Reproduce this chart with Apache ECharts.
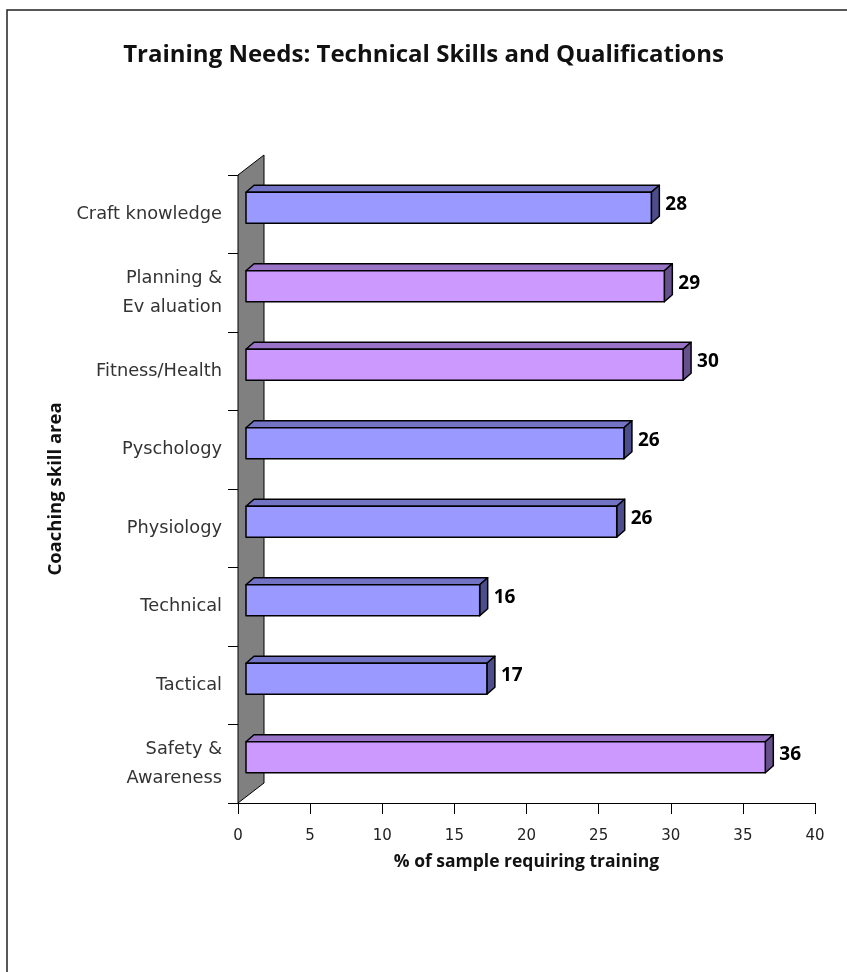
<!DOCTYPE html>
<html>
<head>
<meta charset="utf-8">
<script src="https://cdn.jsdelivr.net/npm/echarts@6/dist/echarts.min.js"></script>
<style>
html,body{margin:0;padding:0;background:#fff;}
#chart{width:847px;height:972px;}
</style>
</head>
<body>
<div id="chart"></div>
<script>
const categories = ['Craft knowledge', 'Planning &\nEv aluation', 'Fitness/Health', 'Pyschology', 'Physiology', 'Technical', 'Tactical', 'Safety &\nAwareness'];
const values = [28.1, 29.0, 30.3, 26.2, 25.7, 16.2, 16.7, 36.0];
const groups = ['blue', 'purple', 'purple', 'blue', 'blue', 'blue', 'blue', 'purple'];
const xTicks = [0, 5, 10, 15, 20, 25, 30, 35, 40];

const palette = {
  blue: { front: '#9999FF', top: '#7373C6', side: '#4D4D8C' },
  purple: { front: '#CC99FF', top: '#9973C6', side: '#66508C' }
};

const WALL_DX = 26, WALL_DY = -20;
const BAR_OX = 8, BAR_OY = -6.5;
const BAR_DX = 8, BAR_DY = -7;
const LIGHT = '"DejaVu Sans", sans-serif';
const BOLD = '"Open Sans", sans-serif';

const chart = echarts.init(document.getElementById('chart'));

const barData = values.map((v, i) => [v, i, groups[i] === 'purple' ? 1 : 0]);

const option = {
  backgroundColor: '#fff',
  animation: false,
  title: {
    text: 'Training Needs: Technical Skills and Qualifications',
    left: 'center',
    top: 38,
    textStyle: { fontFamily: BOLD, fontSize: 24, fontWeight: 'bold', color: '#111' }
  },
  graphic: [{
    type: 'rect',
    shape: { x: 7, y: 10, width: 900, height: 1000 },
    style: { fill: 'none', stroke: '#222', lineWidth: 1.5 },
    silent: true,
    z: -10
  }],
  grid: { left: 238, right: 32, top: 175, bottom: 169 },
  xAxis: {
    type: 'value',
    min: xTicks[0],
    max: xTicks[xTicks.length - 1],
    interval: 5,
    splitLine: { show: false },
    axisLine: { show: true, lineStyle: { color: '#000', width: 1 } },
    axisTick: { show: true, length: 11, lineStyle: { color: '#000' } },
    axisLabel: { fontFamily: LIGHT, fontSize: 15, color: '#222', margin: 26 },
    name: '% of sample requiring training',
    nameLocation: 'middle',
    nameGap: 50,
    nameTextStyle: { fontFamily: BOLD, fontSize: 17.5, fontWeight: 'bold', color: '#111' }
  },
  yAxis: {
    type: 'category',
    data: categories,
    inverse: true,
    axisLine: { show: true, lineStyle: { color: '#000', width: 1 } },
    axisTick: { show: true, length: 10, lineStyle: { color: '#000' } },
    axisLabel: { fontFamily: LIGHT, fontSize: 17.8, color: '#333', margin: 16, lineHeight: 29, align: 'right' },
    name: 'Coaching skill area',
    nameLocation: 'middle',
    nameRotate: 90,
    nameGap: 168,
    nameTextStyle: { fontFamily: BOLD, fontSize: 18.5, fontWeight: 'bold', color: '#111' }
  },
  series: [
    {
      type: 'custom',
      silent: true,
      data: [[0, 0]],
      z: 1,
      renderItem: function (params, api) {
        const cs = params.coordSys;
        const x = cs.x, y = cs.y, h = cs.height;
        return {
          type: 'polygon',
          shape: { points: [[x, y], [x + WALL_DX, y + WALL_DY], [x + WALL_DX, y + h + WALL_DY], [x, y + h]] },
          style: { fill: '#808080', stroke: '#000', lineWidth: 1 }
        };
      }
    },
    {
      type: 'custom',
      data: barData,
      encode: { x: 0, y: 1 },
      z: 3,
      renderItem: function (params, api) {
        const v = api.value(0);
        const idx = api.value(1);
        const col = api.value(2) === 1 ? palette.purple : palette.blue;
        const p0 = api.coord([0, idx]);
        const p1 = api.coord([v, idx]);
        const band = api.size([0, 1])[1];
        const h = band * 0.395;
        const x0 = p0[0] + BAR_OX, x1 = p1[0] + BAR_OX;
        const yc = p0[1] + BAR_OY;
        const t = yc - h / 2, b = yc + h / 2;
        const stroke = { stroke: '#000', lineWidth: 1.5, lineJoin: 'round' };
        return {
          type: 'group',
          children: [
            { type: 'polygon', shape: { points: [[x0, t], [x0 + BAR_DX, t + BAR_DY], [x1 + BAR_DX, t + BAR_DY], [x1, t]] }, style: Object.assign({ fill: col.top }, stroke) },
            { type: 'polygon', shape: { points: [[x1, t], [x1 + BAR_DX, t + BAR_DY], [x1 + BAR_DX, b + BAR_DY], [x1, b]] }, style: Object.assign({ fill: col.side }, stroke) },
            { type: 'rect', shape: { x: x0, y: t, width: x1 - x0, height: h }, style: Object.assign({ fill: col.front }, stroke) },
            { type: 'text', style: { text: String(Math.round(v)), x: x1 + BAR_DX + 6, y: yc - 3, verticalAlign: 'middle', align: 'left', fontFamily: BOLD, fontSize: 19, fontWeight: 'bold', fill: '#000' } }
          ]
        };
      }
    }
  ]
};

chart.setOption(option);
</script>
</body>
</html>
